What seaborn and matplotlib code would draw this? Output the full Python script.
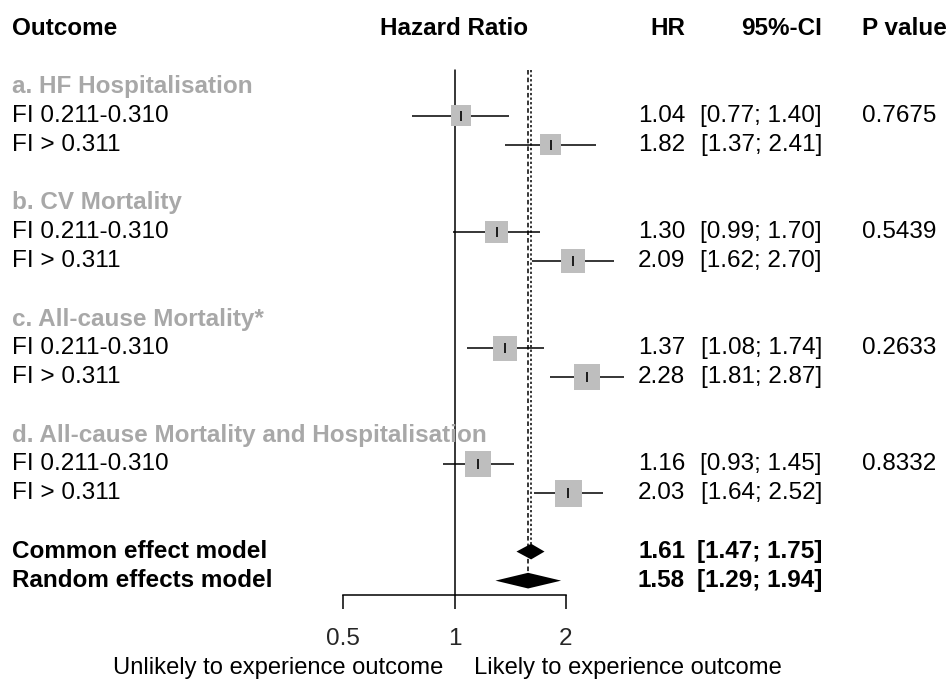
import numpy as np
import pandas as pd
import seaborn as sns
import matplotlib.pyplot as plt
from matplotlib import transforms

# Data
groups = ["a. HF Hospitalisation", "b. CV Mortality",
          "c. All-cause Mortality*", "d. All-cause Mortality and Hospitalisation"]
subgroups = ["FI 0.211-0.310", "FI > 0.311"]
hr = [1.04, 1.82, 1.30, 2.09, 1.37, 2.28, 1.16, 2.03]
ci_low = [0.77, 1.37, 0.99, 1.62, 1.08, 1.81, 0.93, 1.64]
ci_high = [1.40, 2.41, 1.70, 2.70, 1.74, 2.87, 1.45, 2.52]
weights = [9.1, 9.5, 10.9, 11.7, 13.2, 14.1, 14.8, 16.6]
p_values = ["0.7675", "0.5439", "0.2633", "0.8332"]
models = ["Common effect model", "Random effects model"]
model_hr = [1.61, 1.58]
model_low = [1.47, 1.29]
model_high = [1.75, 1.94]
xticks = [0.5, 1, 2]
xtick_labels = ["0.5", "1", "2"]

sns.set_theme(style="white")
plt.rcParams['font.family'] = ['Liberation Sans', 'DejaVu Sans']
FS = 17.5
GREY = "#a8a8a8"

W, H = 951, 681
fig = plt.figure(figsize=(W / 100, H / 100), dpi=100)

# row r sits at y_px = Y0 + DY * r
Y0, DY = 28.5, 29.06
ax = fig.add_axes([343 / W, 0, (566 - 343) / W, 1])
ax.set_xscale("log")
ax.set_xlim(0.5, 2)
ax.set_ylim((H - Y0) / DY, -Y0 / DY)
ax.patch.set_alpha(0)

# row layout: group header, then two subgroup rows, then a blank row
rows = []
group_rows = []
r = 2
for g in groups:
    group_rows.append(r)
    rows += [r + 1, r + 2]
    r += 4
model_rows = [r, r + 1]
axis_row = (595 - Y0) / DY

df = pd.DataFrame({"hr": hr, "row": rows, "w": weights})

# reference lines
top_row = (70 - Y0) / DY
ax.plot([1, 1], [top_row, axis_row], color="black", lw=1.1, clip_on=False)
ax.plot([model_hr[0]] * 2, [top_row, model_rows[0] - 0.27],
        color="black", lw=1.1, ls=(0, (1.5, 1.5)), clip_on=False)
ax.plot([model_hr[1]] * 2, [top_row, model_rows[1] - 0.27],
        color="black", lw=1.1, ls=(0, (3, 2)), clip_on=False)

# confidence intervals
ax.hlines(rows, ci_low, ci_high, color="black", lw=1.1, clip_on=False, zorder=2)

# weighted squares (area ~ weight)
sides = {w: (6.8 * np.sqrt(w) * 0.72) ** 2 for w in weights}
sns.scatterplot(data=df, x="hr", y="row", size="w", sizes=sides, marker="s",
                color="#bebebe", linewidth=0, legend=False, ax=ax, clip_on=False, zorder=3)
ax.scatter(hr, rows, marker="|", s=50, color="black", lw=1.2, zorder=4, clip_on=False)

# pooled diamonds
for m, lo, hi, rr in zip(model_hr, model_low, model_high, model_rows):
    ax.fill([lo, m, hi, m], [rr, rr - 0.27, rr, rr + 0.27], color="black",
            lw=0, clip_on=False, zorder=4)

# x axis
for s in ["top", "left", "right"]:
    ax.spines[s].set_visible(False)
ax.spines["bottom"].set_position(("data", axis_row))
ax.spines["bottom"].set_bounds(0.5, 2)
ax.spines["bottom"].set_color("black")
ax.spines["bottom"].set_linewidth(1.1)
ax.set_xticks(xticks)
ax.set_xticklabels(xtick_labels, fontsize=FS)
ax.minorticks_off()
ax.tick_params(axis="x", direction="out", length=10, width=1.1, color="black",
               pad=14, bottom=True)
ax.set_yticks([])
ax.set_xlabel("")
ax.set_ylabel("")

# text columns
tr = transforms.blended_transform_factory(fig.transFigure, ax.transData)
def txt(xpx, row, s, ha="left", bold=False, color="black", size=FS):
    fig.text(xpx / W, row, s, transform=tr, ha=ha, va="center", fontsize=size,
             fontweight="bold" if bold else "normal", color=color)

txt(12, 0, "Outcome", bold=True)
txt(454, 0, "Hazard Ratio", ha="center", bold=True)
txt(685, 0, "HR", ha="right", bold=True)
txt(822, 0, "95%-CI", ha="right", bold=True)
txt(862, 0, "P value", bold=True)

for g, gr, p in zip(groups, group_rows, p_values):
    txt(12, gr, g, bold=True, color=GREY)
    txt(862, gr + 1, p)
for i, rr in enumerate(rows):
    txt(12, rr, subgroups[i % 2])
    txt(685, rr, f"{hr[i]:.2f}", ha="right")
    txt(822, rr, f"[{ci_low[i]:.2f}; {ci_high[i]:.2f}]", ha="right")
for name, m, lo, hi, rr in zip(models, model_hr, model_low, model_high, model_rows):
    txt(12, rr, name, bold=True)
    txt(685, rr, f"{m:.2f}", ha="right", bold=True)
    txt(822, rr, f"[{lo:.2f}; {hi:.2f}]", ha="right", bold=True)

bottom_row = (668 - Y0) / DY
txt(443, bottom_row, "Unlikely to experience outcome", ha="right", size=17.1)
txt(474, bottom_row, "Likely to experience outcome", size=17.1)

fig.savefig("out.png", dpi=100, facecolor="white")
